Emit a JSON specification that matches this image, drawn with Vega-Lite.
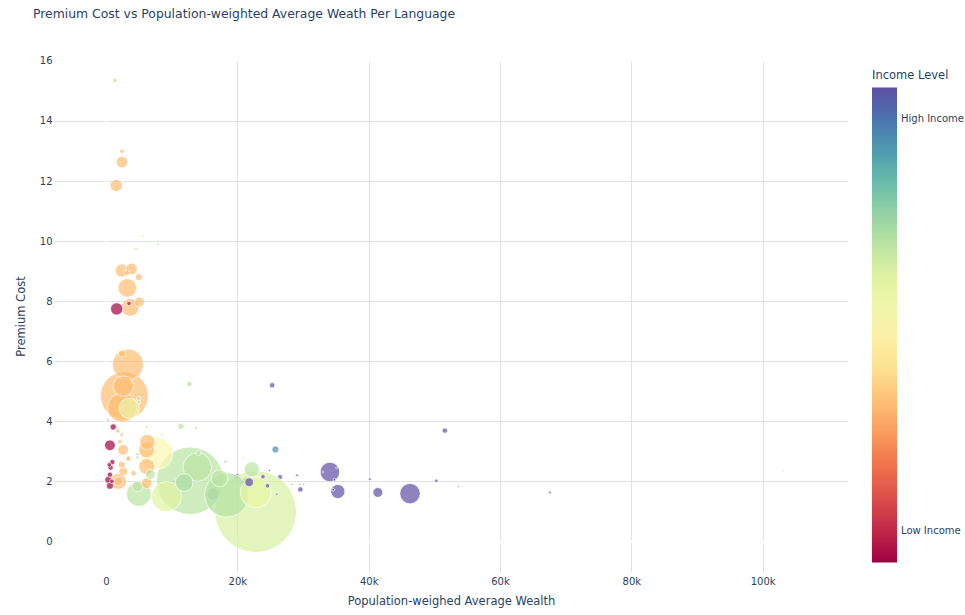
{
  "$schema": "https://vega.github.io/schema/vega-lite/v6.json",
  "autosize": {"type": "none"},
  "width": 794,
  "height": 512,
  "padding": {"left": 54, "top": 60, "right": 117, "bottom": 43},
  "background": "white",
  "title": {
    "text": "Premium Cost vs Population-weighted Average Weath Per Language",
    "anchor": "start",
    "frame": "group",
    "dx": -21,
    "dy": -32,
    "font": "DejaVu Sans",
    "fontSize": 12.4,
    "fontWeight": "normal",
    "color": "#2a3f5f"
  },
  "config": {
    "view": {"stroke": null},
    "font": "DejaVu Sans",
    "axis": {
      "labelFont": "DejaVu Sans",
      "titleFont": "DejaVu Sans",
      "labelColor": "#2a3f5f",
      "titleColor": "#2a3f5f",
      "labelFontSize": 10,
      "titleFontSize": 11.5,
      "titleFontWeight": "normal",
      "grid": true,
      "gridColor": "#e1e1e1",
      "gridWidth": 1,
      "domain": false,
      "ticks": false
    },
    "legend": {
      "labelFont": "DejaVu Sans",
      "titleFont": "DejaVu Sans",
      "labelColor": "#2a3f5f",
      "titleColor": "#2a3f5f"
    }
  },
  "data": {
    "values": [
      {"wealth": 16300, "cost": 1.58, "income": 3.9, "speakers": 22},
      {"wealth": 20000, "cost": 2.17, "income": 3.9, "speakers": 4.7},
      {"wealth": 26500, "cost": 2.14, "income": 3.9, "speakers": 4.7},
      {"wealth": 21400, "cost": 1.94, "income": 3.9, "speakers": 19},
      {"wealth": 22800, "cost": 0.99, "income": 2.85, "speakers": 1100},
      {"wealth": 12800, "cost": 2.02, "income": 3.0, "speakers": 750},
      {"wealth": 2800, "cost": 4.85, "income": 2.0, "speakers": 379},
      {"wealth": 18400, "cost": 1.55, "income": 3.05, "speakers": 325},
      {"wealth": 7700, "cost": 2.94, "income": 2.5, "speakers": 178},
      {"wealth": 3350, "cost": 5.89, "income": 2.0, "speakers": 159},
      {"wealth": 22800, "cost": 1.63, "income": 2.7, "speakers": 159},
      {"wealth": 9200, "cost": 1.49, "income": 2.8, "speakers": 150},
      {"wealth": 2450, "cost": 4.45, "income": 2.0, "speakers": 142},
      {"wealth": 13900, "cost": 2.47, "income": 3.0, "speakers": 133},
      {"wealth": 5000, "cost": 1.58, "income": 3.0, "speakers": 102},
      {"wealth": 2640, "cost": 5.17, "income": 2.0, "speakers": 69},
      {"wealth": 3550, "cost": 4.43, "income": 2.7, "speakers": 69},
      {"wealth": 46300, "cost": 1.59, "income": 4.0, "speakers": 69},
      {"wealth": 34100, "cost": 2.31, "income": 4.0, "speakers": 63},
      {"wealth": 3250, "cost": 8.44, "income": 2.0, "speakers": 57},
      {"wealth": 11900, "cost": 1.96, "income": 3.1, "speakers": 52},
      {"wealth": 3700, "cost": 7.79, "income": 2.0, "speakers": 52},
      {"wealth": 17300, "cost": 2.1, "income": 3.0, "speakers": 47},
      {"wealth": 1900, "cost": 2.0, "income": 2.0, "speakers": 42},
      {"wealth": 6200, "cost": 3.05, "income": 2.0, "speakers": 42},
      {"wealth": 6200, "cost": 2.49, "income": 2.0, "speakers": 42},
      {"wealth": 6300, "cost": 3.31, "income": 2.0, "speakers": 38},
      {"wealth": 22200, "cost": 2.4, "income": 3.0, "speakers": 38},
      {"wealth": 35300, "cost": 1.66, "income": 4.0, "speakers": 33},
      {"wealth": 2440, "cost": 9.02, "income": 2.0, "speakers": 29},
      {"wealth": 1570, "cost": 11.85, "income": 2.0, "speakers": 25},
      {"wealth": 1630, "cost": 7.74, "income": 1.0, "speakers": 25},
      {"wealth": 2440, "cost": 12.63, "income": 2.0, "speakers": 22},
      {"wealth": 3900, "cost": 9.07, "income": 2.0, "speakers": 22},
      {"wealth": 600, "cost": 3.2, "income": 1.0, "speakers": 19},
      {"wealth": 2600, "cost": 3.05, "income": 2.0, "speakers": 19},
      {"wealth": 4800, "cost": 1.83, "income": 3.0, "speakers": 19},
      {"wealth": 6200, "cost": 1.94, "income": 2.0, "speakers": 19},
      {"wealth": 5100, "cost": 7.97, "income": 2.0, "speakers": 16},
      {"wealth": 6750, "cost": 2.23, "income": 3.0, "speakers": 16},
      {"wealth": 41400, "cost": 1.63, "income": 4.0, "speakers": 16},
      {"wealth": 2640, "cost": 2.33, "income": 2.0, "speakers": 13},
      {"wealth": 1900, "cost": 2.0, "income": 2.0, "speakers": 13},
      {"wealth": 21800, "cost": 1.97, "income": 4.0, "speakers": 13},
      {"wealth": 5000, "cost": 8.8, "income": 2.0, "speakers": 8.3},
      {"wealth": 2440, "cost": 6.25, "income": 2.0, "speakers": 8.3},
      {"wealth": 2400, "cost": 2.55, "income": 2.0, "speakers": 8.3},
      {"wealth": 350, "cost": 2.05, "income": 1.0, "speakers": 8.3},
      {"wealth": 600, "cost": 1.85, "income": 1.0, "speakers": 8.3},
      {"wealth": 25800, "cost": 3.06, "income": 3.65, "speakers": 8.3},
      {"wealth": 1100, "cost": 3.81, "income": 1.0, "speakers": 6.4},
      {"wealth": 11400, "cost": 3.83, "income": 3.0, "speakers": 6.4},
      {"wealth": 12700, "cost": 5.24, "income": 3.0, "speakers": 4.7},
      {"wealth": 25300, "cost": 5.2, "income": 4.0, "speakers": 4.7},
      {"wealth": 51600, "cost": 3.69, "income": 4.0, "speakers": 4.7},
      {"wealth": 960, "cost": 2.64, "income": 1.0, "speakers": 4.7},
      {"wealth": 700, "cost": 2.46, "income": 1.0, "speakers": 4.7},
      {"wealth": 3400, "cost": 2.74, "income": 2.0, "speakers": 4.7},
      {"wealth": 600, "cost": 2.22, "income": 1.0, "speakers": 4.7},
      {"wealth": 4200, "cost": 2.27, "income": 2.0, "speakers": 4.7},
      {"wealth": 14100, "cost": 2.94, "income": 3.0, "speakers": 4.7},
      {"wealth": 29600, "cost": 1.73, "income": 4.0, "speakers": 4.7},
      {"wealth": 3150, "cost": 8.94, "income": 2.0, "speakers": 4.7},
      {"wealth": 900, "cost": 2.0, "income": 1.0, "speakers": 3.3},
      {"wealth": 500, "cost": 2.55, "income": 1.0, "speakers": 3.3},
      {"wealth": 2440, "cost": 12.99, "income": 2.0, "speakers": 3.3},
      {"wealth": 3500, "cost": 7.92, "income": 1.1, "speakers": 3.3},
      {"wealth": 5000, "cost": 4.75, "income": 3.0, "speakers": 3.3},
      {"wealth": 1800, "cost": 3.68, "income": 2.0, "speakers": 3.3},
      {"wealth": 2100, "cost": 3.32, "income": 2.0, "speakers": 3.3},
      {"wealth": 23900, "cost": 2.15, "income": 4.0, "speakers": 3.3},
      {"wealth": 24600, "cost": 1.85, "income": 4.0, "speakers": 3.3},
      {"wealth": 3400, "cost": 2.77, "income": 2.0, "speakers": 3.3},
      {"wealth": 1370, "cost": 15.35, "income": 2.0, "speakers": 2.8},
      {"wealth": 5000, "cost": 4.65, "income": 3.0, "speakers": 2.1},
      {"wealth": 2400, "cost": 3.55, "income": 2.0, "speakers": 2.1},
      {"wealth": 4800, "cost": 2.9, "income": 3.0, "speakers": 2.1},
      {"wealth": 4800, "cost": 2.8, "income": 3.0, "speakers": 2.1},
      {"wealth": 18200, "cost": 2.66, "income": 3.0, "speakers": 2.1},
      {"wealth": 50300, "cost": 2.02, "income": 4.0, "speakers": 2.1},
      {"wealth": 13700, "cost": 3.78, "income": 3.0, "speakers": 1.6},
      {"wealth": 5600, "cost": 10.17, "income": 2.2, "speakers": 1.2},
      {"wealth": 7900, "cost": 10.0, "income": 3.0, "speakers": 1.2},
      {"wealth": 7900, "cost": 9.9, "income": 3.0, "speakers": 1.2},
      {"wealth": 4570, "cost": 9.75, "income": 2.0, "speakers": 1.2},
      {"wealth": 6200, "cost": 3.81, "income": 2.0, "speakers": 1.2},
      {"wealth": 8500, "cost": 3.55, "income": 3.0, "speakers": 1.2},
      {"wealth": 29100, "cost": 2.2, "income": 4.0, "speakers": 1.2},
      {"wealth": 40200, "cost": 2.07, "income": 4.0, "speakers": 1.2},
      {"wealth": 34800, "cost": 2.05, "income": 4.0, "speakers": 1.2},
      {"wealth": 34600, "cost": 1.72, "income": 4.0, "speakers": 1.2},
      {"wealth": 67600, "cost": 1.63, "income": 4.0, "speakers": 1.2},
      {"wealth": 24900, "cost": 2.36, "income": 4.0, "speakers": 0.8},
      {"wealth": 26000, "cost": 1.57, "income": 3.6, "speakers": 1.2},
      {"wealth": 2500, "cost": 6.84, "income": 2.0, "speakers": 0.5},
      {"wealth": 260, "cost": 4.04, "income": 1.0, "speakers": 0.5},
      {"wealth": 20900, "cost": 2.79, "income": 3.3, "speakers": 0.5},
      {"wealth": 29500, "cost": 1.9, "income": 4.0, "speakers": 0.5},
      {"wealth": 30100, "cost": 1.9, "income": 4.0, "speakers": 0.5},
      {"wealth": 28300, "cost": 1.9, "income": 4.0, "speakers": 0.5},
      {"wealth": 53700, "cost": 1.83, "income": 4.0, "speakers": 0.5},
      {"wealth": 33000, "cost": 2.31, "income": 4.0, "speakers": 0.5},
      {"wealth": 35100, "cost": 2.45, "income": 4.0, "speakers": 0.5},
      {"wealth": 13500, "cost": 11.4, "income": 3.0, "speakers": 0.3},
      {"wealth": 14700, "cost": 4.32, "income": 3.0, "speakers": 0.3},
      {"wealth": 103200, "cost": 2.36, "income": 4.0, "speakers": 0.3},
      {"wealth": 106500, "cost": 2.0, "income": 4.0, "speakers": 0.15},
      {"wealth": 62000, "cost": 5.6, "income": 3.0, "speakers": 0.1},
      {"wealth": 73800, "cost": 2.17, "income": 4.0, "speakers": 0.1},
      {"wealth": 46000, "cost": 2.18, "income": 4.0, "speakers": 0.1}
    ]
  },
  "encoding": {
    "x": {
      "field": "wealth",
      "type": "quantitative",
      "scale": {"domain": [-7920, 113000], "nice": false, "zero": false},
      "axis": {
        "title": "Population-weighed Average Wealth",
        "grid": true,
        "values": [0, 20000, 40000, 60000, 80000, 100000],
        "labelExpr": "datum.value == 0 ? '0' : (datum.value / 1000) + 'k'",
        "labelPadding": 4,
        "titlePadding": 9,
        "gridColor": {"condition": {"test": "datum.value === 0", "value": "white"}, "value": "#e1e1e1"}
      }
    },
    "y": {
      "field": "cost",
      "type": "quantitative",
      "scale": {"domain": [-1.02, 16.03], "nice": false, "zero": false},
      "axis": {
        "title": "Premium Cost",
        "grid": true,
        "values": [0, 2, 4, 6, 8, 10, 12, 14, 16],
        "labelPadding": 2,
        "titlePadding": 13,
        "gridColor": {"condition": {"test": "datum.value === 0 || datum.value === 16", "value": "white"}, "value": "#e1e1e1"}
      }
    }
  },
  "layer": [
    {
      "mark": {"type": "rule", "color": "white", "strokeWidth": 2},
      "encoding": {"x": {"datum": 0, "type": "quantitative"}, "y": {"datum": -1.02, "type": "quantitative"}, "y2": {"datum": 16.03}}
    },
    {
      "mark": {"type": "rule", "color": "white", "strokeWidth": 2},
      "encoding": {"y": {"datum": 0, "type": "quantitative"}, "x": {"datum": -7920, "type": "quantitative"}, "x2": {"datum": 113000}}
    },
    {
      "mark": {"type": "circle", "fillOpacity": 0.7, "strokeOpacity": 0.7, "stroke": "white", "strokeWidth": 1, "clip": true},
      "encoding": {
        "size": {
          "field": "speakers",
          "type": "quantitative",
          "scale": {"domain": [0, 1100], "range": [0, 6650]},
          "legend": null
        },
        "color": {
          "field": "income",
          "type": "quantitative",
          "scale": {"scheme": "spectral", "domain": [1, 4]},
          "legend": {
            "title": "Income Level",
            "orient": "none",
            "legendX": 818,
            "legendY": 10,
            "direction": "vertical",
            "gradientLength": 475,
            "gradientThickness": 25,
            "gradientStrokeWidth": 0,
            "values": [1.2, 3.8],
            "labelExpr": "datum.value < 2 ? 'Low Income' : 'High Income'",
            "labelFontSize": 10,
            "labelOffset": 4,
            "titleFontSize": 11.5,
            "titleFontWeight": "normal",
            "titlePadding": 6
          }
        }
      }
    }
  ]
}
